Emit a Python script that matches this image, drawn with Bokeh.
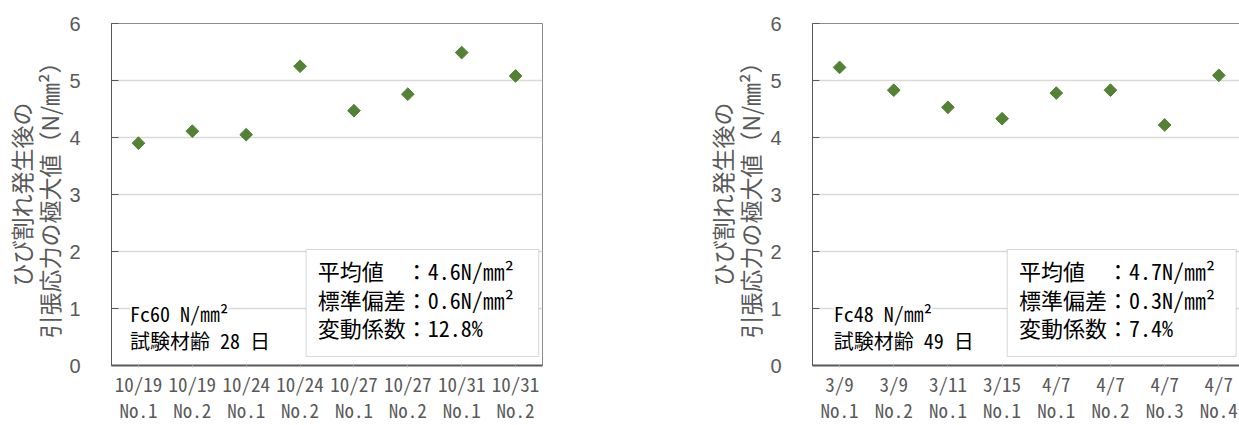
import math
from bokeh.plotting import figure
from bokeh.layouts import row
from bokeh.models import Range1d, FixedTicker, LinearAxis, BoxAnnotation, Label
from bokeh.embed import file_html
from bokeh.resources import INLINE

# ---- data ----
left_dates = ["10/19", "10/19", "10/24", "10/24", "10/27", "10/27", "10/31", "10/31"]
left_nos = ["No.1", "No.2", "No.1", "No.2", "No.1", "No.2", "No.1", "No.2"]
left_values = [3.90, 4.11, 4.05, 5.25, 4.47, 4.76, 5.49, 5.08]

right_dates = ["3/9", "3/9", "3/11", "3/15", "4/7", "4/7", "4/7", "4/7"]
right_nos = ["No.1", "No.2", "No.1", "No.1", "No.1", "No.2", "No.3", "No.4"]
right_values = [5.23, 4.83, 4.53, 4.33, 4.78, 4.83, 4.22, 5.09]

left_stats = ["平均値　：4.6N/㎜²", "標準偏差：0.6N/㎜²", "変動係数：12.8%"]
right_stats = ["平均値　：4.7N/㎜²", "標準偏差：0.3N/㎜²", "変動係数：7.4%"]
left_spec = ["Fc60 N/㎜²", "試験材齢 28 日"]
right_spec = ["Fc48 N/㎜²", "試験材齢 49 日"]

y_title = "ひび割れ発生後の\n引張応力の極大値（N/㎜²）"
y_ticks = [0, 1, 2, 3, 4, 5, 6]

# ---- style ----
MONO = "Noto Sans Mono CJK JP"
GOTHIC = "Noto Sans CJK JP"
NUM = "Liberation Sans"
GRAY = "#595959"
GREEN = "#548235"
PX_PER_CAT = 54.175


def make(dates, nos, vals, stats, spec, width, border_left, border_right, x_end,
         box_lr, text_x, spec_x, cropped):
    n = len(vals)
    xs = list(range(n))
    p = figure(width=width, height=425, output_backend="svg", toolbar_location=None,
               x_range=Range1d(-0.5, x_end), y_range=Range1d(0, 6),
               min_border_left=border_left, min_border_right=border_right,
               min_border_top=23, min_border_bottom=60,
               background_fill_color="white", border_fill_color="white")
    p.outline_line_color = None if cropped else "#8c8c8c"
    p.outline_line_width = 1

    # y axis
    p.yaxis.ticker = FixedTicker(ticks=y_ticks)
    p.yaxis.axis_line_color = GRAY
    p.yaxis.axis_line_width = 1
    p.yaxis.major_tick_in = 7
    p.yaxis.major_tick_out = 0
    p.yaxis.major_tick_line_color = GRAY
    p.yaxis.minor_tick_line_color = None
    p.yaxis.major_label_standoff = 31
    p.yaxis.major_label_text_font = NUM
    p.yaxis.major_label_text_font_size = "20px"
    p.yaxis.major_label_text_color = GRAY
    p.yaxis.axis_label = y_title
    p.yaxis.axis_label_text_font = GOTHIC
    p.yaxis.axis_label_text_font_size = "23px"
    p.yaxis.axis_label_text_font_style = "normal"
    p.yaxis.axis_label_text_color = GRAY
    p.yaxis.axis_label_text_line_height = 0.84
    p.yaxis.axis_label_standoff = 0

    # x axis
    p.xaxis.ticker = FixedTicker(ticks=xs)
    p.xaxis.major_label_overrides = {i: f"{d}\n{m}" for i, (d, m) in enumerate(zip(dates, nos))}
    p.xaxis.axis_line_color = GRAY
    p.xaxis.axis_line_width = 2
    p.xaxis.major_tick_in = 0
    p.xaxis.major_tick_out = 2
    p.xaxis.major_tick_line_color = "#bfbfbf"
    p.xaxis.minor_tick_line_color = None
    p.xaxis.major_label_standoff = 2
    p.xaxis.major_label_text_font = MONO
    p.xaxis.major_label_text_font_size = "19px"
    p.xaxis.major_label_text_color = GRAY
    p.xaxis.major_label_text_line_height = 0.97

    p.xgrid.grid_line_color = None
    p.ygrid.ticker = FixedTicker(ticks=y_ticks[1:-1])
    p.ygrid.grid_line_color = "#d9d9d9"
    p.ygrid.grid_line_width = 1.3

    if cropped:
        top = LinearAxis(ticker=FixedTicker(ticks=[]), axis_line_color="#8c8c8c",
                         major_tick_line_color=None, minor_tick_line_color=None)
        p.add_layout(top, "above")

    p.scatter(xs, vals, marker="square", angle=math.pi / 4, size=9,
              fill_color=GREEN, line_color=GREEN)

    # stats box
    p.add_layout(BoxAnnotation(left=box_lr[0], right=box_lr[1], bottom=0.158, top=2.035,
                               fill_color="white", fill_alpha=1.0,
                               line_color="#7f7f7f", line_width=1))
    for t, yy in zip(stats, [1.684, 1.175, 0.667]):
        p.add_layout(Label(x=text_x, y=yy, text=t, text_font=MONO,
                           text_font_size="22px", text_color="black",
                           text_baseline="middle"))
    for t, yy in zip(spec, [0.91, 0.43]):
        p.add_layout(Label(x=spec_x, y=yy, text=t, text_font=MONO,
                           text_font_size="20px", text_color="black",
                           text_baseline="middle",
                           background_fill_color="white", background_fill_alpha=1.0))
    return p


left_w = 680
p1 = make(left_dates, left_nos, left_values, left_stats, left_spec,
          width=left_w, border_left=108, border_right=left_w - 108 - 434, x_end=7.5,
          box_lr=(3.112, 7.43), text_x=3.328, spec_x=-0.155, cropped=False)

right_w = 1239 - left_w
rb_left = 132
frame_w = right_w - rb_left
p2 = make(right_dates, right_nos, right_values, right_stats, right_spec,
          width=right_w, border_left=rb_left, border_right=0,
          x_end=-0.5 + frame_w / PX_PER_CAT,
          box_lr=(3.094, 7.32), text_x=3.31, spec_x=-0.107, cropped=True)

layout = row(p1, p2)
open("out.html", "w").write(file_html(layout, INLINE))
